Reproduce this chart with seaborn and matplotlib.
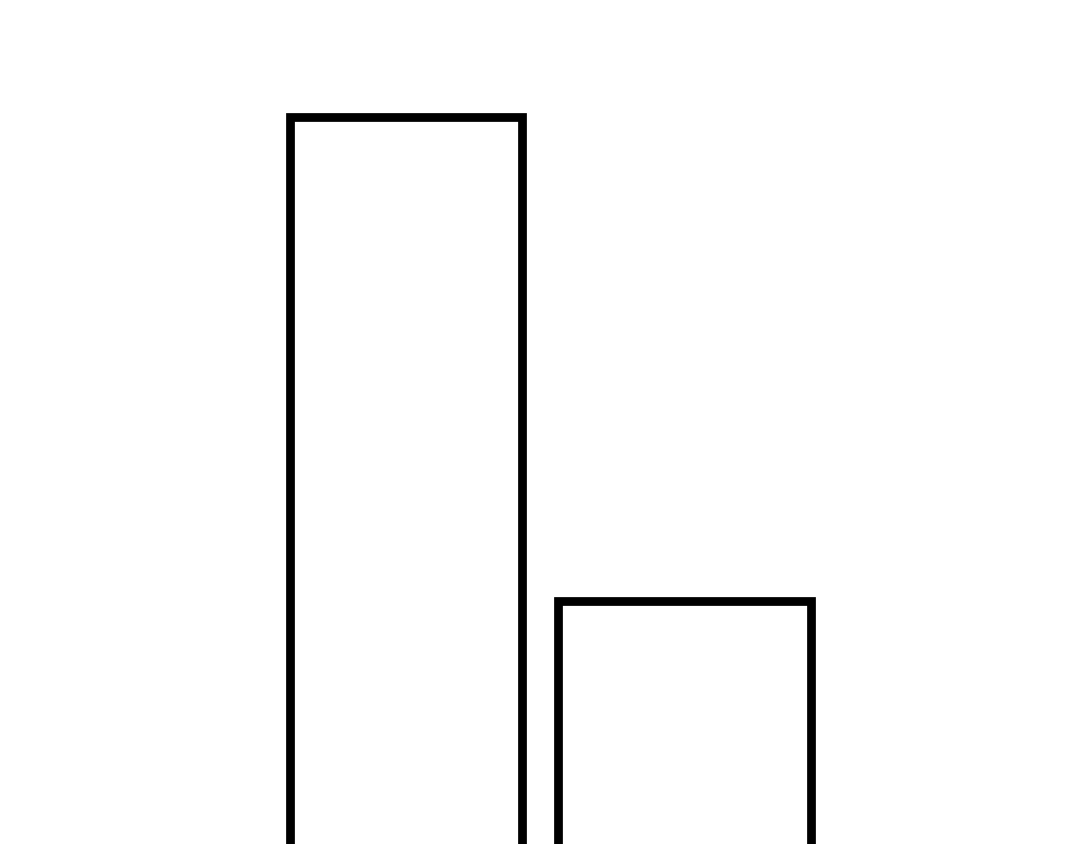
import matplotlib
matplotlib.use("Agg")
import matplotlib.pyplot as plt
import pandas as pd
import seaborn as sns

# data
categories = ["A", "B"]
values = [100, 40]

# per-bar widths (category units), the bars are not equally wide
bar_widths = [0.831, 0.908]

sns.set_style("white")

frame = pd.DataFrame({"category": categories, "value": values})

fig = plt.figure(figsize=(10.8, 8.44), dpi=100)
ax = fig.add_axes([0, 0, 1, 1])

sns.barplot(data=frame, x="category", y="value", ax=ax, width=0.85,
            fill=False, color="black", linewidth=6.3, errorbar=None)

# bars are drawn as outlines only, black edge on white
for patch, w in zip(ax.patches, bar_widths):
    cx = patch.get_x() + patch.get_width() / 2
    patch.set_width(w)
    patch.set_x(cx - w / 2)
    patch.set_edgecolor("black")
    patch.set_facecolor("white")
    patch.set_joinstyle("miter")

ax.set_xlim(-1.458, 2.420)
ax.set_ylim(9.85, 114.46)
ax.set_axis_off()

fig.savefig("out.png", dpi=100, facecolor="white")
